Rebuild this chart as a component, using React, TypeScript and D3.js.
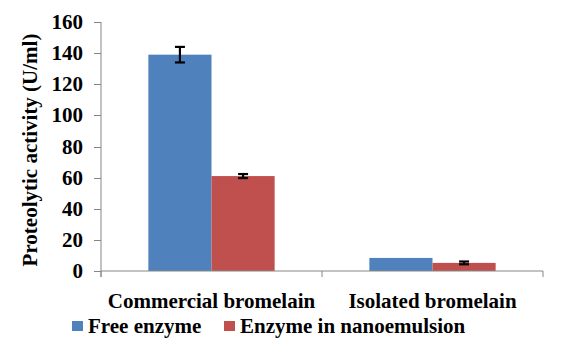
import React from "react";
import * as d3 from "d3";

const categories = ["Commercial bromelain", "Isolated bromelain"];
const seriesNames = ["Free enzyme", "Enzyme in nanoemulsion"];
const freeEnzyme = [139, 8.4];
const nanoEnzyme = [61, 5.2];
const freeError = [5, 0];
const nanoError = [1.3, 0.9];
const yTicks = [0, 20, 40, 60, 80, 100, 120, 140, 160];

const colors = ["#4F81BD", "#C0504D"];
const values = [freeEnzyme, nanoEnzyme];
const errors = [freeError, nanoError];

export default function App() {
  const W = 568, H = 348;
  const left = 101, right = 543, top = 22, bottom = 271;
  const x0 = d3.scaleBand<string>().domain(categories).range([left, right]).padding(0);
  const x1 = d3.scaleBand<string>().domain(seriesNames).range([0, x0.bandwidth()]).paddingInner(0).paddingOuter(0.75);
  const y = d3.scaleLinear().domain([0, 160]).range([bottom, top]);
  const textStyle: React.CSSProperties = {
    fontFamily: '"Liberation Serif", "Times New Roman", "DejaVu Serif", serif',
    fontWeight: 700,
    fontSize: "21px",
  };
  const axisColor = "#868686";

  return (
    <svg width={W} height={H} style={{ position: "absolute", left: 0, top: 0, background: "#fff" }}>
      <rect x={0} y={0} width={W} height={H} fill="#fff" />
      {categories.map((c, ci) =>
        seriesNames.map((s, si) => {
          const v = values[si][ci];
          const bx = (x0(c) as number) + (x1(s) as number);
          return (
            <rect key={c + s} x={bx} y={y(v)} width={x1.bandwidth()} height={y(0) - y(v)} fill={colors[si]} />
          );
        })
      )}
      <line x1={left} x2={left} y1={top} y2={bottom + 6} stroke={axisColor} strokeWidth={1} />
      <line x1={left} x2={right} y1={bottom} y2={bottom} stroke={axisColor} strokeWidth={1} />
      {yTicks.map((t) => (
        <g key={t}>
          <line x1={left - 7} x2={left} y1={Math.round(y(t)) + 0.5} y2={Math.round(y(t)) + 0.5} stroke={axisColor} />
          <text x={83} y={y(t)} textAnchor="end" dominantBaseline="central" style={textStyle} fill="#000">
            {t}
          </text>
        </g>
      ))}
      {[...categories.map((c) => x0(c) as number), right].map((px, i) => (
        <line key={i} x1={px} x2={px} y1={bottom} y2={bottom + 6} stroke={axisColor} />
      ))}
      {categories.map((c, ci) =>
        seriesNames.map((s, si) => {
          const e = errors[si][ci];
          if (!e) return null;
          const v = values[si][ci];
          const cx = (x0(c) as number) + (x1(s) as number) + x1.bandwidth() / 2;
          return (
            <g key={"e" + c + s} stroke="#000" strokeWidth={2.2}>
              <line x1={cx} x2={cx} y1={y(v + e)} y2={y(v - e)} />
              <line x1={cx - 5} x2={cx + 5} y1={y(v + e)} y2={y(v + e)} />
              <line x1={cx - 5} x2={cx + 5} y1={y(v - e)} y2={y(v - e)} />
            </g>
          );
        })
      )}
      {categories.map((c) => (
        <text key={c} x={(x0(c) as number) + x0.bandwidth() / 2} y={308} textAnchor="middle" style={textStyle} fill="#000">
          {c}
        </text>
      ))}
      <text transform="translate(37,150) rotate(-90)" textAnchor="middle" style={textStyle} fill="#000">
        Proteolytic activity (U/ml)
      </text>
      {seriesNames.map((s, i) => {
        const lx = i === 0 ? 72 : 224;
        return (
          <g key={s}>
            <rect x={lx} y={321} width={11} height={10} fill={colors[i]} />
            <text x={lx + 16} y={333} style={textStyle} fill="#000">
              {s}
            </text>
          </g>
        );
      })}
    </svg>
  );
}
